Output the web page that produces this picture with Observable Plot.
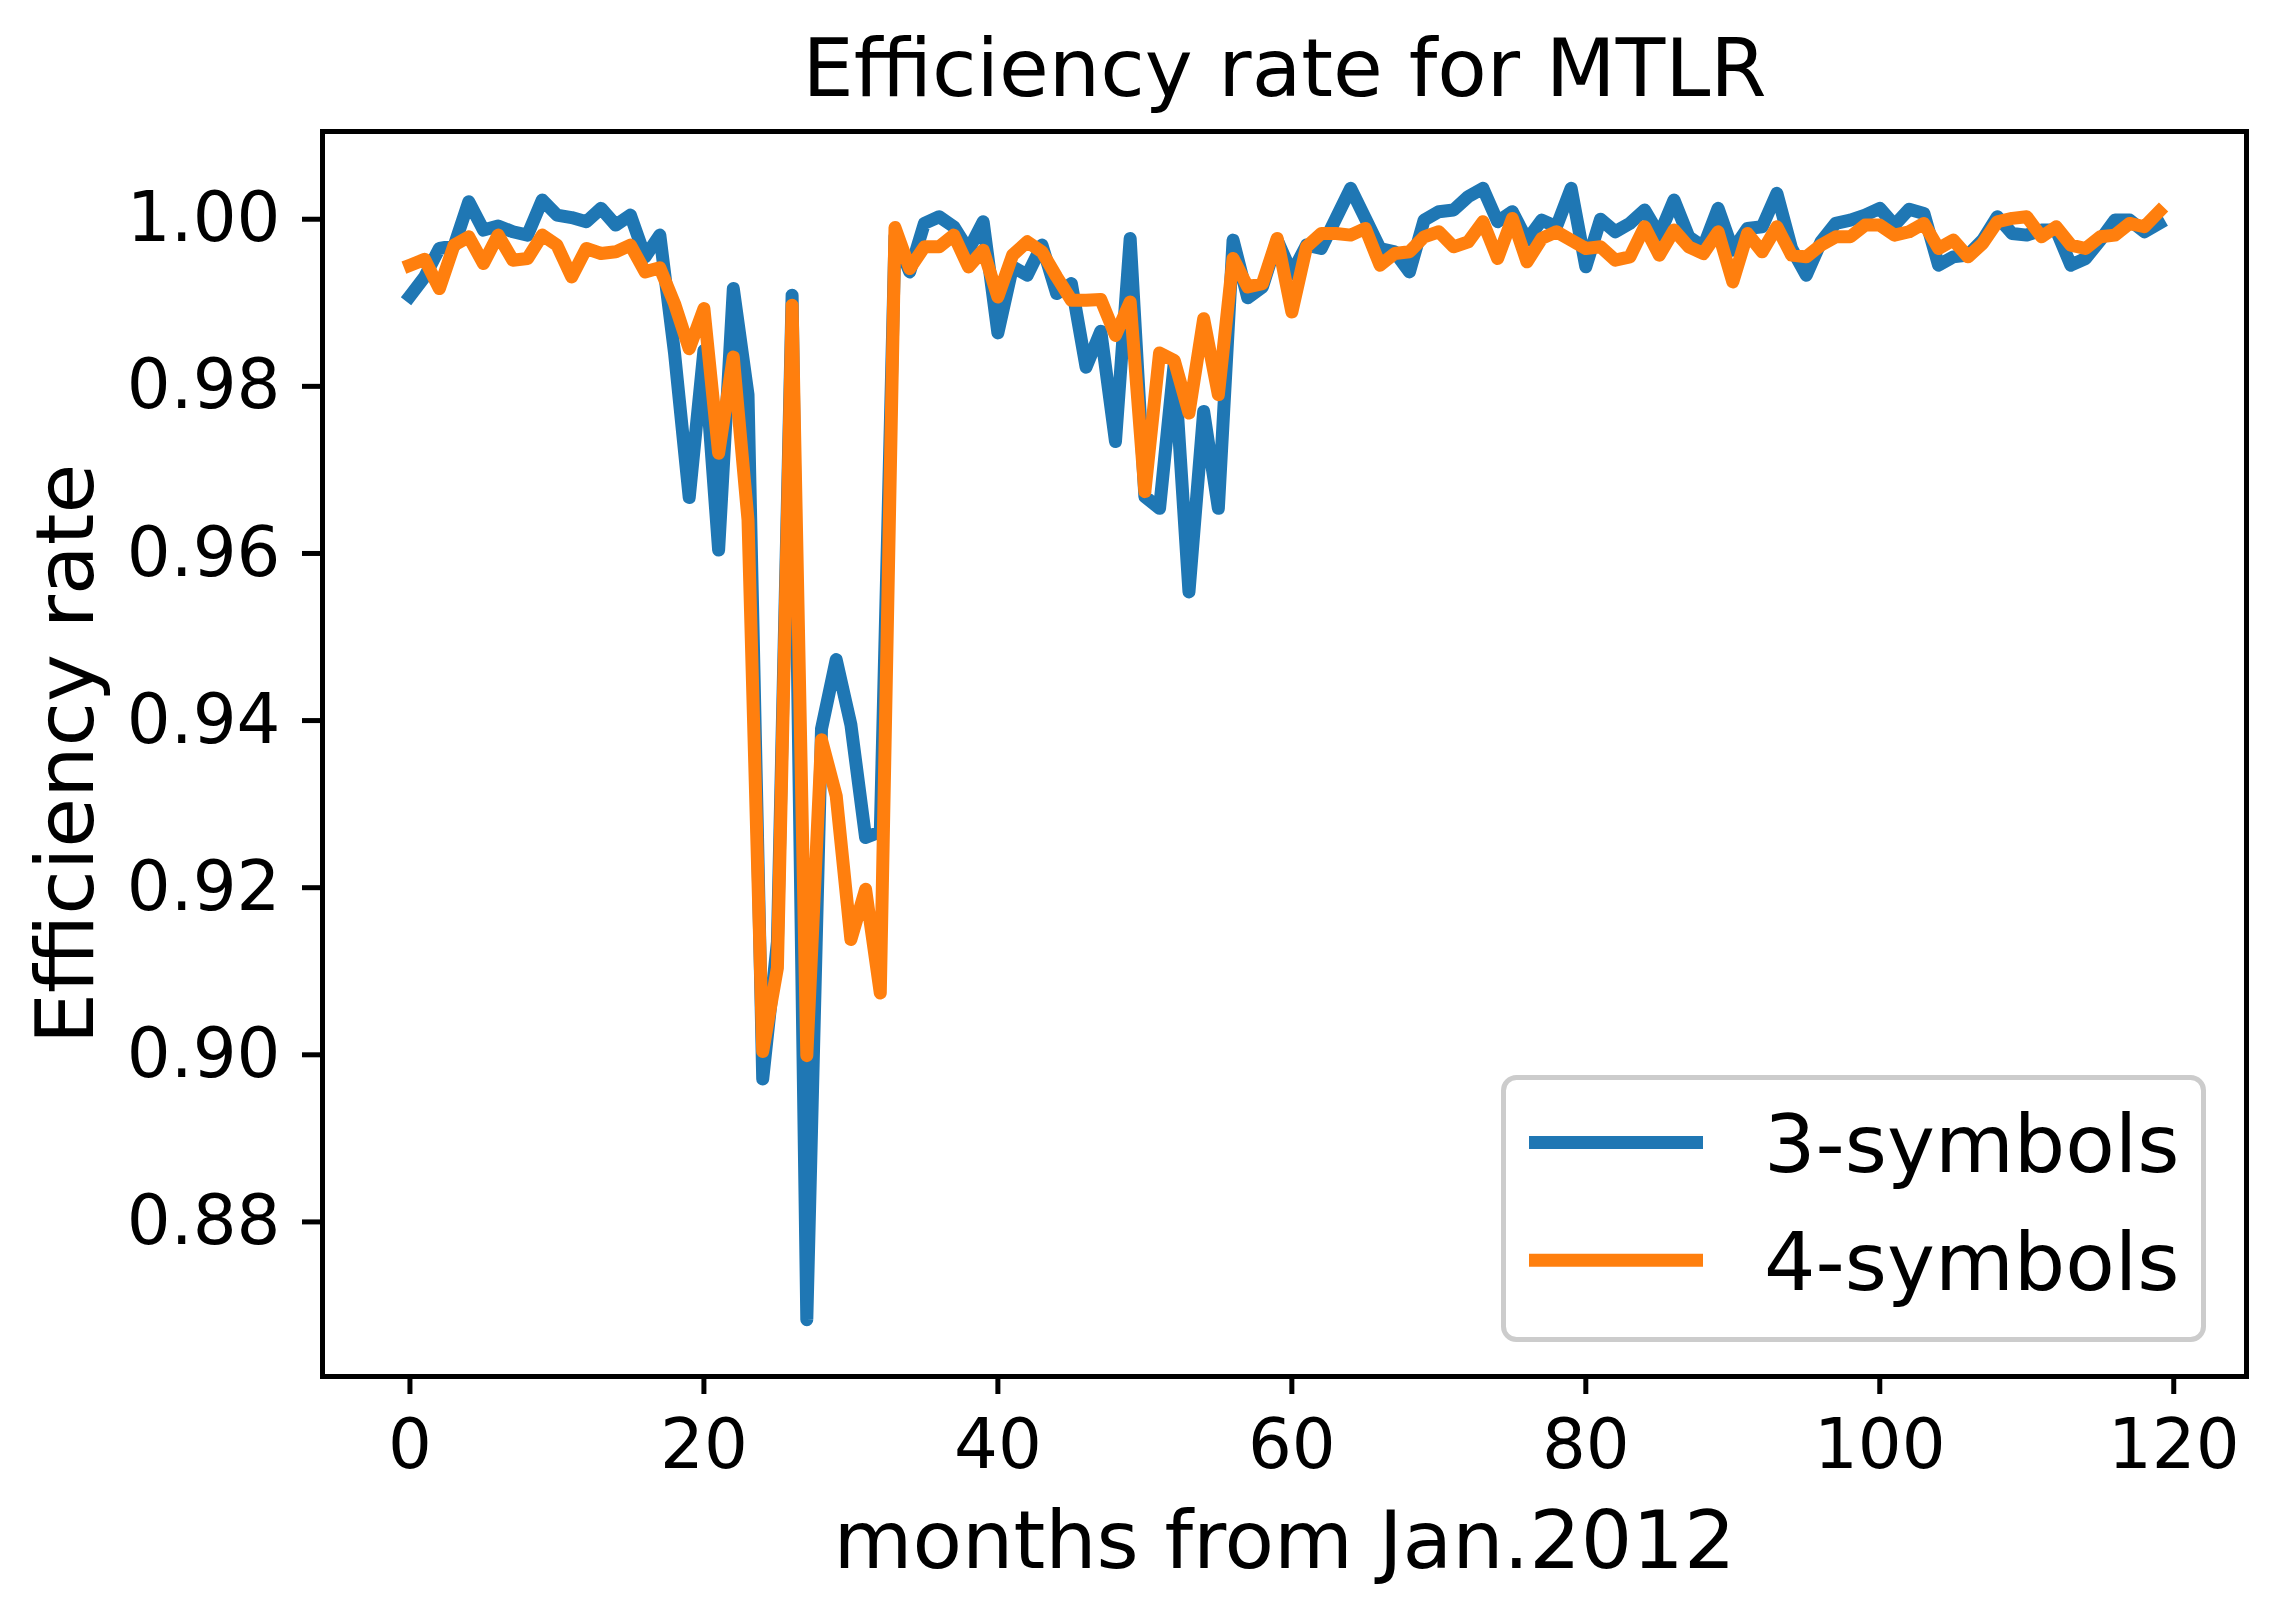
<!DOCTYPE html>
<html>
<head>
<meta charset="utf-8">
<script src="https://cdn.jsdelivr.net/npm/d3@7"></script>
<script src="https://cdn.jsdelivr.net/npm/@observablehq/plot@0.6"></script>
<style>
  html, body { margin: 0; padding: 0; background: #fff; }
  #chart { position: relative; width: 2275px; height: 1614px; }
</style>
</head>
<body>
<div id="chart"></div>
<script>
const titleText = "Efficiency rate for MTLR";
const xLabel = "months from Jan.2012";
const yLabel = "Efficiency rate";
const seriesNames = ["3-symbols", "4-symbols"];
const seriesColors = ["#1f77b4", "#ff7f0e"];
const xTicks = [0, 20, 40, 60, 80, 100, 120];
const yTicks = [0.88, 0.90, 0.92, 0.94, 0.96, 0.98, 1.00];

const months = d3.range(0, 120);

const threeSymbols = [
  0.9908, 0.9931, 0.9965, 0.9968, 1.0021, 0.9987, 0.9992, 0.9985, 0.9981, 1.0023,
  1.0005, 1.0002, 0.9997, 1.0013, 0.9993, 1.0005, 0.9955, 0.9981, 0.9840, 0.9667,
  0.9843, 0.9604, 0.9917, 0.9790, 0.8971, 0.9135, 0.9909, 0.8683, 0.9390, 0.9473,
  0.9395, 0.9260, 0.9267, 0.9980, 0.9937, 0.9995, 1.0003, 0.9991, 0.9963, 0.9997,
  0.9864, 0.9943, 0.9933, 0.9969, 0.9911, 0.9923, 0.9823, 0.9866, 0.9734, 0.9977,
  0.9668, 0.9654, 0.9828, 0.9554, 0.9770, 0.9654, 0.9975, 0.9906, 0.9919, 0.9975,
  0.9935, 0.9969, 0.9965, 1.0001, 1.0037, 1.0001, 0.9965, 0.9961, 0.9937, 0.9999,
  1.0009, 1.0011, 1.0027, 1.0037, 0.9997, 1.0009, 0.9975, 0.9999, 0.9991, 1.0037,
  0.9943, 1.0000, 0.9985, 0.9995, 1.0011, 0.9981, 1.0023, 0.9979, 0.9967, 1.0013,
  0.9963, 0.9989, 0.9991, 1.0031, 0.9965, 0.9933, 0.9973, 0.9995, 0.9999, 1.0005,
  1.0013, 0.9993, 1.0012, 1.0007, 0.9945, 0.9955, 0.9957, 0.9975, 1.0003, 0.9983,
  0.9981, 0.9987, 0.9987, 0.9945, 0.9953, 0.9975, 0.9999, 0.9999, 0.9985, 0.9995
];

const fourSymbols = [
  0.9945, 0.9952, 0.9917, 0.9969, 0.9979, 0.9947, 0.9981, 0.9951, 0.9953, 0.9981,
  0.9969, 0.9931, 0.9965, 0.9959, 0.9961, 0.9969, 0.9937, 0.9942, 0.9899, 0.9845,
  0.9893, 0.9720, 0.9835, 0.9640, 0.9004, 0.9104, 0.9897, 0.8999, 0.9377, 0.9310,
  0.9138, 0.9198, 0.9074, 0.9990, 0.9941, 0.9967, 0.9967, 0.9981, 0.9943, 0.9963,
  0.9907, 0.9957, 0.9973, 0.9961, 0.9931, 0.9903, 0.9903, 0.9904, 0.9861, 0.9901,
  0.9674, 0.9840, 0.9831, 0.9768, 0.9881, 0.9790, 0.9953, 0.9919, 0.9923, 0.9977,
  0.9889, 0.9967, 0.9983, 0.9983, 0.9981, 0.9989, 0.9945, 0.9959, 0.9961, 0.9979,
  0.9985, 0.9967, 0.9973, 0.9997, 0.9953, 1.0001, 0.9949, 0.9977, 0.9985, 0.9975,
  0.9965, 0.9967, 0.9951, 0.9955, 0.9991, 0.9957, 0.9987, 0.9967, 0.9959, 0.9985,
  0.9925, 0.9983, 0.9961, 0.9991, 0.9957, 0.9955, 0.9969, 0.9979, 0.9979, 0.9993,
  0.9993, 0.9981, 0.9985, 0.9995, 0.9965, 0.9975, 0.9955, 0.9971, 0.9997, 1.0001,
  1.0003, 0.9979, 0.9991, 0.9969, 0.9965, 0.9979, 0.9981, 0.9995, 0.9991, 1.0009
];

const seriesValues = [threeSymbols, fourSymbols];
const rows = seriesNames.flatMap((name, i) =>
  months.map((m, j) => ({series: name, month: m, value: seriesValues[i][j]}))
);

const W = 2275, H = 1614;
const mL = 322, mR = 29, mT = 131, mB = 238;
const font = "DejaVu Sans";

const svg = Plot.plot({
  width: W,
  height: H,
  marginLeft: mL,
  marginRight: mR,
  marginTop: mT,
  marginBottom: mB,
  style: {fontFamily: font, fontSize: "69px", background: "white", color: "black", overflow: "visible"},
  x: {domain: [-5.95, 124.95]},
  y: {domain: [0.8615, 1.0105]},
  color: {domain: seriesNames, range: seriesColors},
  marks: [
    Plot.line(rows, {
      x: "month", y: "value", z: "series", stroke: "series",
      strokeWidth: 13, strokeLinejoin: "round", strokeLinecap: "square"
    }),
    Plot.frame({stroke: "black", strokeWidth: 5}),
    Plot.axisX({ticks: xTicks, tickSize: 18, tickPadding: 24, strokeWidth: 5, fontSize: 69, label: null, tickFormat: d3.format("d")}),
    Plot.axisY({ticks: yTicks, tickSize: 20, tickPadding: 22, strokeWidth: 5, fontSize: 69, label: null, tickFormat: d3.format(".2f")}),
    Plot.text([titleText], {frameAnchor: "top", textAnchor: "middle", lineAnchor: "bottom", dy: -36, fontSize: 81, fill: "black"}),
    Plot.text([xLabel], {frameAnchor: "bottom", textAnchor: "middle", lineAnchor: "bottom", dy: 191, fontSize: 81, fill: "black"}),
    Plot.text([yLabel], {frameAnchor: "left", textAnchor: "middle", lineAnchor: "bottom", rotate: -90, dx: -230, fontSize: 81, fill: "black"})
  ]
});

// Legend (layout only; entries come from series arrays)
const lg = d3.select(svg).append("g")
  .attr("font-family", font).attr("font-size", 81).attr("text-anchor", "start");
lg.append("rect")
  .attr("x", 1503.5).attr("y", 1077.5).attr("width", 700).attr("height", 262)
  .attr("rx", 13).attr("ry", 13)
  .attr("fill", "white").attr("fill-opacity", 0.8)
  .attr("stroke", "#cccccc").attr("stroke-width", 5);
seriesNames.forEach((name, i) => {
  const cy = 1142.6 + i * 117.6;
  lg.append("line")
    .attr("x1", 1529).attr("x2", 1703).attr("y1", cy).attr("y2", cy)
    .attr("stroke", seriesColors[i]).attr("stroke-width", 13);
  lg.append("text")
    .attr("x", 1764).attr("y", 1172 + i * 117.6)
    .attr("text-anchor", "start")
    .attr("fill", "black")
    .text(name);
});

document.getElementById("chart").appendChild(svg);
</script>
</body>
</html>
